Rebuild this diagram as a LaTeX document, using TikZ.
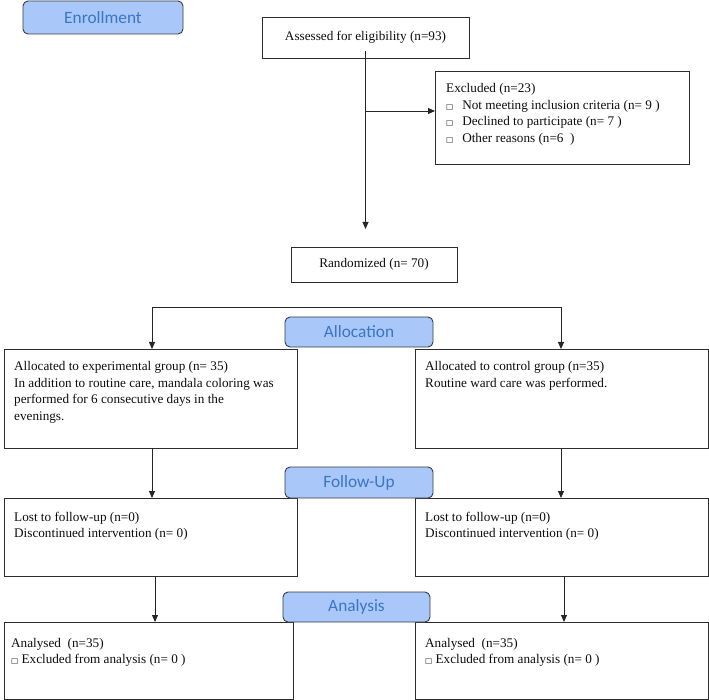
\documentclass[tikz,border=0pt]{standalone}
\usepackage{fontspec}
\setmainfont{Liberation Serif}
\newfontfamily\labfont{Carlito}
\newfontfamily\symfont{DejaVu Sans}
\usetikzlibrary{arrows.meta}
\definecolor{labfill}{RGB}{170,199,250}
\definecolor{labtext}{RGB}{58,118,196}
\definecolor{labedge}{RGB}{55,58,68}
\definecolor{boxedge}{RGB}{45,45,45}
\newcommand{\sqb}{{\symfont\fontsize{7.5}{7.5}\selectfont □}}
\begin{document}
\begin{tikzpicture}[x=1pt,y=-1pt,
  box/.style={draw=boxedge, line width=0.9pt, rectangle, inner sep=0pt, outer sep=0pt, anchor=north west, text=black!95, font=\fontsize{13.2}{16.5}\selectfont},
  lab/.style={draw=labedge, fill=labfill, line width=0.9pt, rounded corners=5pt, anchor=north west, inner sep=0pt, outer sep=0pt, text=labtext, font=\labfont\fontsize{17.3}{20}\selectfont},
  txt/.style={anchor=north west, inner sep=0pt, align=left, text=black!95, font=\fontsize{13.2}{16.5}\selectfont},
  arr/.style={draw=black!85, line width=0.9pt, -{Triangle[length=7pt,width=6pt]}},
  ln/.style={draw=black!85, line width=0.9pt}]
\useasboundingbox (0,0) rectangle (709,700);

% boxes
\node[box, minimum width=207pt, minimum height=41pt] (assess) at (262,17) {Assessed for eligibility (n=93)};
\node[box, minimum width=254pt, minimum height=93pt] (excl) at (435,71) {};
\node[txt] (excltxt) at (446,83.5) {Excluded (n=23)\\\sqb\hspace{9pt}Not meeting inclusion criteria (n= 9 )\\\sqb\hspace{9pt}Declined to participate (n= 7 )\\\sqb\hspace{9pt}Other reasons (n=6\ \ )};
\node[box, minimum width=166pt, minimum height=35pt] (rand) at (291,247) {Randomized (n= 70)};

\node[box, minimum width=293pt, minimum height=99pt] (allocL) at (4,349) {};
\node[box, minimum width=293pt, minimum height=99pt] (allocR) at (415,349) {};
\node[txt] (allocLt) at (14,361.5) {Allocated to experimental group (n= 35)\\In addition to routine care, mandala coloring was\\performed for 6 consecutive days in the\\evenings.};
\node[txt] (allocRt) at (425,361.5) {Allocated to control group (n=35)\\Routine ward care was performed.};

\node[box, minimum width=293pt, minimum height=78pt] (followL) at (4,498) {};
\node[box, minimum width=293pt, minimum height=78pt] (followR) at (415,498) {};
\node[txt] (followLt) at (14,512) {Lost to follow-up (n=0)\\Discontinued intervention (n= 0)};
\node[txt] (followRt) at (425,512) {Lost to follow-up (n=0)\\Discontinued intervention (n= 0)};

\node[box, minimum width=289pt, minimum height=77pt] (anaL) at (4,622) {};
\node[box, minimum width=293pt, minimum height=77pt] (anaR) at (415,622) {};
\node[txt] (anaLt) at (11,638) {Analysed\ \ (n=35)\\\sqb\ Excluded from analysis (n= 0 )};
\node[txt] (anaRt) at (425,638) {Analysed\ \ (n=35)\\\sqb\ Excluded from analysis (n= 0 )};

% stage labels
\node[lab, minimum width=160pt, minimum height=33pt] (enroll) at (23,1) {Enrollment};
\node[lab, minimum width=148pt, minimum height=30pt] (alloc) at (285,317) {Allocation};
\node[lab, minimum width=148pt, minimum height=31pt] (follow) at (285,467) {Follow-Up};
\node[lab, minimum width=147pt, minimum height=30pt] (ana) at (283,592) {Analysis};

% connectors
\coordinate (br) at (366,111);
\draw[arr] ([yshift=7pt]assess.south) -- ([yshift=18pt]rand.north -| assess.south);
\draw[arr] (br) -- (br -| excl.west);

\coordinate (splitL) at (152,307);
\coordinate (splitR) at (561,307);
\coordinate (colL) at (155,600);
\coordinate (colR) at (564,600);
\draw[ln] (splitL) -- (splitR);
\draw[arr] (splitL) -- (splitL |- allocL.north);
\draw[arr] (splitR) -- (splitR |- allocR.north);
\draw[arr] (allocL.south -| splitL) -- (followL.north -| splitL);
\draw[arr] (allocR.south -| splitR) -- (followR.north -| splitR);
\draw[arr] (followL.south -| colL) -- (anaL.north -| colL);
\draw[arr] (followR.south -| colR) -- (anaR.north -| colR);
\end{tikzpicture}
\end{document}
